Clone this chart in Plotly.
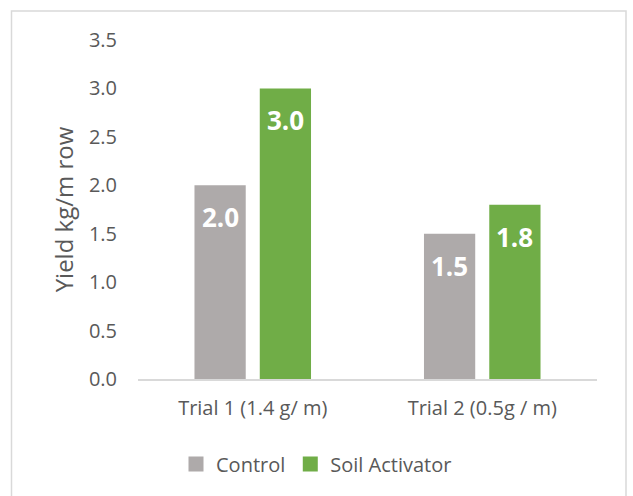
import plotly.graph_objects as go

categories = ["Trial 1 (1.4 g/ m)", "Trial 2 (0.5g / m)"]
control = [2.0, 1.5]
activator = [3.0, 1.8]
series_names = ["Control", "Soil Activator"]
colors = ["#AEAAAA", "#70AD47"]
y_ticks = [0.0, 0.5, 1.0, 1.5, 2.0, 2.5, 3.0, 3.5]

FONT = "Open Sans"
W, H = 633, 496
ml, mr, mt, mb = 138, 36, 40, 117
pw, ph = W - ml - mr, H - mt - mb

fig = go.Figure()
for name, vals, col in zip(series_names, [control, activator], colors):
    fig.add_trace(go.Bar(x=categories, y=vals, name=name, marker_color=col,
                         marker_line_width=0, showlegend=False))
# legend entries with larger square swatches
for name, col in zip(series_names, colors):
    fig.add_trace(go.Scatter(x=[None], y=[None], mode="markers", name=name,
                             marker=dict(symbol="square", size=15, color=col),
                             showlegend=True))

# data labels (inside end, white bold)
slot_px = pw / len(categories) * (1 - 0.431) / 2
for i, vals in enumerate([control, activator]):
    shift = (i - 0.5) * slot_px
    for c, v in zip(categories, vals):
        fig.add_annotation(x=c, y=v, text=f"{v:.1f}", showarrow=False,
                           xshift=shift, yshift=-32, yanchor="middle",
                           font=dict(family=FONT, size=26, color="white", weight="bold"))

def px_to_paper_x(px):
    return (px - ml) / pw

def px_to_paper_y(py):
    return (H - mb - py) / ph

fig.add_shape(type="rect", xref="paper", yref="paper",
              x0=px_to_paper_x(11.5), x1=px_to_paper_x(626),
              y0=px_to_paper_y(505), y1=px_to_paper_y(11),
              line=dict(color="#D9D9D9", width=1.5), fillcolor="rgba(0,0,0,0)")

fig.update_layout(
    width=W, height=H,
    margin=dict(l=ml, r=mr, t=mt, b=mb),
    paper_bgcolor="white", plot_bgcolor="white",
    barmode="group", bargap=0.431, bargroupgap=0.215,
    font=dict(family=FONT, size=20, color="#595959"),
    showlegend=True,
    legend=dict(orientation="h", x=px_to_paper_x(176), xanchor="left",
                y=px_to_paper_y(464), yanchor="middle",
                font=dict(family=FONT, size=20, color="#595959"),
                traceorder="normal", itemwidth=30),
    xaxis=dict(showline=True, linecolor="#D9D9D9", linewidth=1.5,
               showgrid=False, ticks="", ticklabelstandoff=10,
               tickfont=dict(size=20)),
    yaxis=dict(range=[0, 3.5], tickvals=y_ticks,
               ticktext=[f"{t:.1f}" for t in y_ticks],
               showgrid=False, showline=False, zeroline=False, ticks="",
               ticklabelstandoff=20, tickfont=dict(size=20),
               title=dict(text="Yield kg/m row", standoff=8,
                          font=dict(family=FONT, size=24, color="#595959"))),
)

fig.write_html("out.html", config={"displayModeBar": False},
               post_script="document.body.style.margin='0';")
